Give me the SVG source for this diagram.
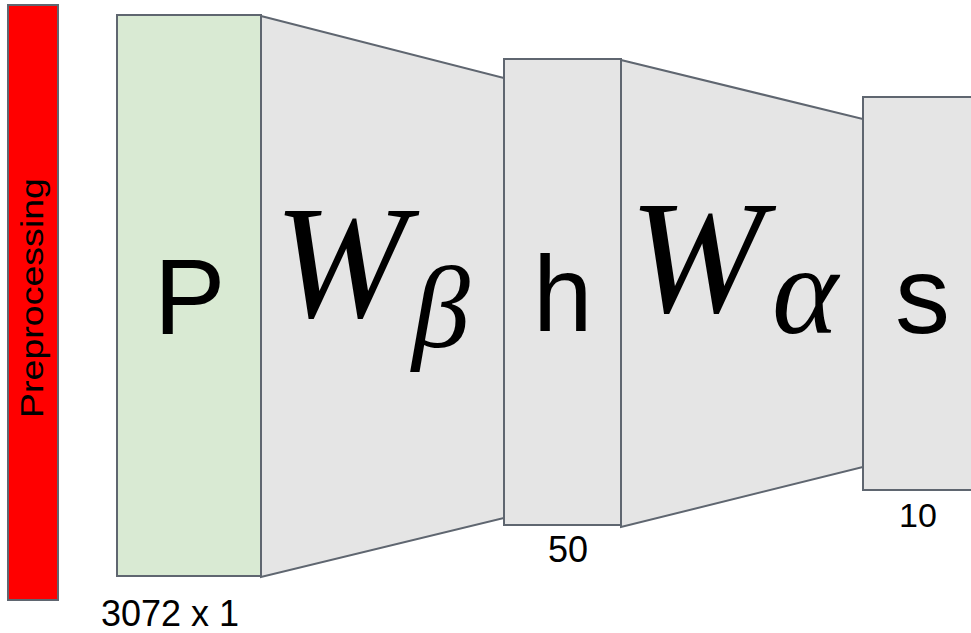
<svg xmlns="http://www.w3.org/2000/svg" width="971" height="633" viewBox="0 0 971 633">
<style>
.box{stroke:#5f6670;stroke-width:2;stroke-linejoin:miter}
.grey{fill:#e5e5e5}
.sans{font-family:"Liberation Sans",Arial,sans-serif;fill:#000}
.math{font-family:"Liberation Serif","Times New Roman",serif;font-style:italic;fill:#000}
</style>
<rect width="971" height="633" fill="#ffffff"/>
<g id="connectors">
<polygon class="box grey" points="261,16 504,78 504,518 261,577"/>
<polygon class="box grey" points="621,60 863,119 863,467 621,527"/>
</g>
<g id="preprocessing">
<rect class="box" x="8" y="5" width="50" height="595" fill="#ff0000"/>
<text class="sans" transform="translate(43,298) rotate(-90)" text-anchor="middle" font-size="31" textLength="240" lengthAdjust="spacingAndGlyphs">Preprocessing</text>
</g>
<g id="node-P">
<rect class="box" x="117" y="15" width="144" height="561" fill="#d9ead3"/>
<text class="sans" x="154" y="334" font-size="107">P</text>
<text class="sans" x="101" y="626" font-size="36">3072 x 1</text>
</g>
<g id="label-Wbeta">
<text class="math" x="274" y="317" font-size="160">W</text>
<text class="math" x="412" y="347" font-size="116">β</text>
</g>
<g id="node-h">
<rect class="box grey" x="504" y="59" width="117" height="466"/>
<text class="sans" x="533" y="331" font-size="107">h</text>
<text class="sans" x="568" y="562" font-size="36" text-anchor="middle">50</text>
</g>
<g id="label-Walpha">
<text class="math" x="629" y="312" font-size="162">W</text>
<text class="math" x="772" y="333" font-size="126">α</text>
</g>
<g id="node-s">
<rect class="box grey" x="863" y="97" width="120" height="393"/>
<text class="sans" x="895" y="333" font-size="110">s</text>
<text class="sans" x="918" y="527" font-size="34" text-anchor="middle">10</text>
</g>
</svg>
